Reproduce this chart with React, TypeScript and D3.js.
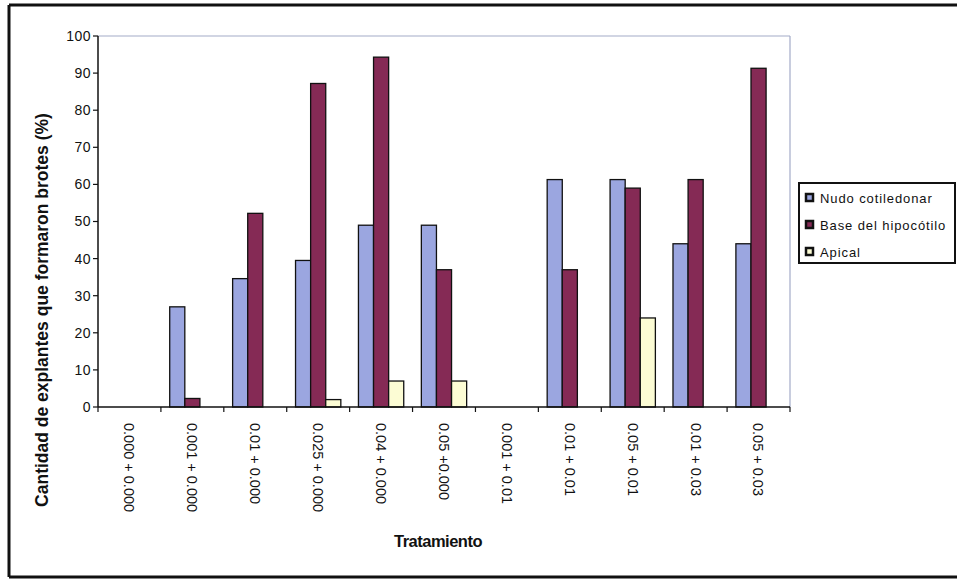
import React from "react";
import * as d3 from "d3";

const categories = [
  "0.000 + 0.000",
  "0.001 + 0.000",
  "0.01 + 0.000",
  "0.025 + 0.000",
  "0.04 + 0.000",
  "0.05 +0.000",
  "0.001 + 0.01",
  "0.01 + 0.01",
  "0.05 + 0.01",
  "0.01 + 0.03",
  "0.05 + 0.03",
];

const seriesNames = ["Nudo cotiledonar", "Base del hipocótilo", "Apical"];
const nudo = [0, 27, 34.6, 39.5, 49, 49, 0, 61.3, 61.3, 44, 44];
const base = [0, 2.3, 52.2, 87.2, 94.3, 37, 0, 37, 59, 61.3, 91.3];
const apical = [0, 0, 0, 2, 7, 7, 0, 0, 24, 0, 0];
const yTicks = [0, 10, 20, 30, 40, 50, 60, 70, 80, 90, 100];

const colors = ["#9ba6e0", "#852a55", "#fcfcd4"];
const W = 957;
const H = 581;
const margin = { left: 98, right: 790, top: 36, bottom: 407 };
const font = "'Liberation Sans', Arial, sans-serif";

export default function App() {
  const seriesValues = [nudo, base, apical];
  const x0 = d3
    .scaleBand<string>()
    .domain(categories)
    .range([margin.left, margin.right])
    .paddingInner(0.28)
    .paddingOuter(0.14);
  const x1 = d3
    .scaleBand<number>()
    .domain([0, 1, 2])
    .range([0, x0.bandwidth()]);
  const y = d3.scaleLinear().domain([0, 100]).range([margin.bottom, margin.top]);
  const step = x0.step();
  const boundaries = d3.range(categories.length + 1).map((i) => margin.left + i * step);

  return (
    <svg
      width={W}
      height={H}
      style={{ position: "absolute", left: 0, top: 0, display: "block", background: "#fff" }}
    >
      {/* outer frame */}
      <line x1={9} y1={5} x2={W} y2={5} stroke="#111" strokeWidth={3} />
      <line x1={9} y1={5} x2={9} y2={577} stroke="#111" strokeWidth={3} />
      <line x1={9} y1={577} x2={W} y2={577} stroke="#111" strokeWidth={3} />

      {/* plot area border (top and right) */}
      <line x1={margin.left} y1={y(100)} x2={margin.right} y2={y(100)} stroke="#a3abc8" strokeWidth={1.2} />
      <line x1={margin.right} y1={y(100)} x2={margin.right} y2={margin.bottom} stroke="#a3abc8" strokeWidth={1.2} />

      {/* bars */}
      {categories.map((c, i) => (
        <g key={c} transform={`translate(${x0(c)},0)`}>
          {seriesValues.map((vals, s) =>
            vals[i] > 0 ? (
              <rect
                key={s}
                x={x1(s)}
                y={y(vals[i])}
                width={x1.bandwidth()}
                height={y(0) - y(vals[i])}
                fill={colors[s]}
                stroke="#111"
                strokeWidth={1.3}
              />
            ) : null
          )}
        </g>
      ))}

      {/* y axis */}
      <line x1={margin.left} y1={y(100)} x2={margin.left} y2={y(0)} stroke="#111" strokeWidth={1.5} />
      {yTicks.map((t) => (
        <g key={t}>
          <line x1={margin.left - 5} x2={margin.left} y1={y(t)} y2={y(t)} stroke="#111" strokeWidth={1.2} />
          <text
            x={margin.left - 7}
            y={y(t)}
            dy="0.35em"
            textAnchor="end"
            fontFamily={font}
            fontSize={14}
            letterSpacing={0.5}
            fill="#111"
          >
            {t}
          </text>
        </g>
      ))}

      {/* x axis */}
      <line x1={margin.left} y1={y(0)} x2={margin.right} y2={y(0)} stroke="#111" strokeWidth={1.5} />
      {boundaries.map((bx, i) => (
        <line key={i} x1={bx} x2={bx} y1={y(0)} y2={y(0) + 5} stroke="#111" strokeWidth={1.2} />
      ))}
      {categories.map((c) => {
        const cx = (x0(c) as number) + x0.bandwidth() / 2;
        return (
          <text
            key={c}
            transform={`translate(${cx},${y(0) + 16}) rotate(90)`}
            dy="0.35em"
            textAnchor="start"
            fontFamily={font}
            fontSize={14.5}
            fill="#111"
          >
            {c}
          </text>
        );
      })}

      {/* axis titles */}
      <text
        transform={`translate(42,310) rotate(-90)`}
        dy="0.35em"
        textAnchor="middle"
        fontFamily={font}
        fontSize={17.5}
        fontWeight="bold"
        fill="#111"
      >
        Cantidad de explantes que formaron brotes (%)
      </text>
      <text
        x={438}
        y={541}
        dy="0.35em"
        textAnchor="middle"
        fontFamily="'Liberation Sans Narrow', 'Liberation Sans', Arial, sans-serif"
        fontSize={16.5}
        fontWeight="bold"
        letterSpacing={-0.5}
        fill="#111"
      >
        Tratamiento
      </text>

      {/* legend */}
      <rect x={799} y={183} width={156} height={80} fill="#fff" stroke="#111" strokeWidth={2} />
      {seriesNames.map((name, s) => {
        const ly = 198 + s * 27;
        return (
          <g key={name}>
            <rect x={806} y={ly - 4} width={7} height={7} fill={colors[s]} stroke="#111" strokeWidth={2.5} />
            <text
              x={820}
              y={ly}
              dy="0.35em"
              fontFamily={font}
              fontSize={13}
              letterSpacing={0.9}
              fill="#111"
            >
              {name}
            </text>
          </g>
        );
      })}
    </svg>
  );
}
